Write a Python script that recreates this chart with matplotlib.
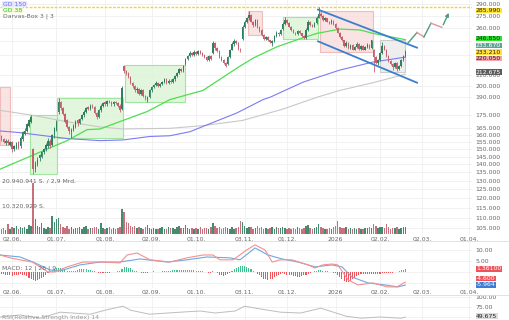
import numpy as np
import matplotlib
matplotlib.use("Agg")
import matplotlib.pyplot as plt
from matplotlib.patches import Rectangle
from matplotlib.ticker import FixedLocator, NullLocator

W, H = 510, 320

# trading-day index (weekdays, 0 = 02.06.2025)
days = np.arange(-5, 187)

opens = [159, 157, 154, 156, 153,
         155, 150, 151, 155, 152, 157, 161, 163, 167, 170,
         150, 137, 140, 144, 145, 148, 150, 152, 156, 153,
         160, 164, 178, 186, 181, 176, 171, 166, 162, 164,
         166, 171, 169, 172, 175, 178, 182, 180, 183, 182,
         177, 174, 179, 183, 186, 184, 187, 186, 184, 186,
         185, 183, 180, 219, 214, 212, 208, 203, 200, 196,
         197, 193, 196, 191, 188, 190, 196, 199, 201, 203,
         200, 202, 204, 206, 203, 205, 204, 206, 209, 212,
         216, 214, 221, 226, 229, 232, 230, 233, 231, 234,
         232, 230, 228, 225, 229, 232, 243, 238, 234, 228,
         225, 222, 221, 228, 236, 242, 245, 243, 237, 248,
         262, 268, 272, 276, 268, 264, 270, 261, 258, 252,
         248, 250, 246, 243, 245, 251, 255, 253, 259, 265,
         270, 266, 262, 258, 255, 253, 257, 254, 251, 249,
         258, 268, 264, 262, 266, 273, 278, 275, 270, 272,
         268, 266, 269, 265, 260, 255, 250, 246, 240, 243,
         238, 241, 236, 239, 242, 237, 240, 236, 239, 241,
         238, 236, 228, 222, 225, 232, 240, 236, 229, 224,
         221, 218, 222, 216, 219, 225, 229]
closes = [157, 155, 156, 154, 155,
          150, 152, 154, 151, 158, 162, 163, 168, 171, 174,
          137, 141, 143, 146, 148, 150, 153, 156, 152, 160,
          165, 170, 186, 181, 176, 170, 166, 163, 164, 167,
          170, 169, 172, 175, 178, 181, 180, 183, 182, 177,
          174, 179, 183, 185, 184, 187, 186, 184, 186, 185,
          183, 179, 198, 214, 212, 208, 203, 200, 196, 197,
          193, 196, 191, 189, 190, 196, 199, 201, 203, 200,
          202, 204, 206, 203, 205, 204, 206, 209, 212, 216,
          214, 219, 226, 229, 232, 230, 233, 231, 234, 232,
          230, 228, 225, 229, 226, 243, 238, 234, 228, 225,
          222, 219, 228, 236, 242, 245, 243, 237, 235, 262,
          268, 272, 276, 268, 264, 270, 261, 258, 252, 248,
          250, 246, 244, 245, 251, 255, 253, 258, 265, 270,
          266, 262, 258, 255, 253, 257, 254, 251, 249, 258,
          268, 264, 262, 266, 273, 278, 275, 270, 272, 268,
          266, 269, 265, 260, 255, 250, 246, 240, 243, 238,
          241, 236, 239, 242, 237, 240, 236, 239, 241, 238,
          246, 228, 222, 225, 232, 240, 236, 229, 224, 221,
          218, 222, 216, 219, 225, 229, 233.6]
highs = [160, 158, 157, 157, 156,
         156, 153, 155, 156, 159, 163, 165, 169, 172, 175,
         151, 142, 145, 147, 149, 151, 154, 158, 157, 161,
         166, 171, 189, 187, 182, 177, 172, 167, 165, 168,
         171, 172, 173, 176, 179, 182, 183, 184, 184, 183,
         178, 180, 184, 186, 187, 188, 188, 187, 187, 187,
         186, 184, 200, 220, 215, 213, 209, 204, 201, 199,
         198, 197, 197, 192, 191, 197, 200, 202, 205, 204,
         203, 205, 207, 207, 206, 206, 207, 210, 213, 217,
         217, 220, 227, 230, 234, 233, 235, 234, 236, 235,
         233, 231, 229, 230, 230, 245, 244, 239, 235, 229,
         226, 223, 229, 237, 244, 248, 247, 244, 238, 264,
         270, 274, 281, 277, 269, 271, 271, 263, 259, 253,
         251, 251, 247, 246, 252, 257, 256, 259, 267, 274,
         271, 267, 263, 259, 256, 258, 258, 255, 252, 260,
         270, 269, 265, 267, 275, 286, 280, 276, 274, 273,
         269, 271, 270, 266, 261, 256, 251, 247, 245, 244,
         242, 242, 240, 244, 243, 241, 241, 240, 243, 242,
         247, 237, 229, 226, 233, 244, 241, 237, 230, 225,
         222, 223, 223, 220, 226, 230, 235]
lows = [156, 154, 153, 153, 152,
        148, 149, 150, 150, 151, 156, 160, 162, 166, 169,
        134, 135, 139, 142, 144, 147, 149, 151, 151, 152,
        158, 163, 176, 179, 175, 169, 165, 161, 158, 163,
        165, 167, 168, 171, 174, 177, 179, 179, 181, 176,
        172, 173, 178, 182, 183, 183, 185, 183, 183, 184,
        182, 178, 179, 212, 210, 207, 202, 198, 195, 194,
        192, 192, 190, 188, 186, 189, 195, 198, 200, 199,
        199, 201, 203, 202, 202, 203, 203, 205, 208, 211,
        213, 213, 220, 225, 228, 229, 229, 230, 230, 231,
        229, 227, 224, 224, 225, 231, 236, 233, 227, 224,
        221, 218, 220, 227, 235, 240, 242, 236, 233, 247,
        260, 266, 270, 267, 262, 263, 260, 256, 251, 247,
        247, 245, 243, 240, 244, 250, 251, 252, 258, 264,
        265, 261, 257, 254, 252, 252, 253, 250, 248, 248,
        257, 263, 261, 261, 265, 272, 274, 269, 269, 267,
        265, 265, 264, 259, 254, 249, 245, 239, 239, 237,
        237, 235, 235, 238, 236, 236, 235, 235, 238, 237,
        237, 213, 221, 220, 224, 231, 235, 228, 223, 220,
        215, 217, 214, 215, 218, 224, 228]
volume_mio = [2.0, 2.6, 1.8, 4.0, 2.2,
              3.0, 2.4, 3.4, 2.0, 2.8, 2.5, 3.0, 2.2, 3.6, 3.2,
              20.9, 6.0, 3.2, 2.8, 4.3, 2.6, 2.2, 3.0, 2.4, 7.4,
              5.0, 6.0, 6.5, 4.2, 3.0, 2.6, 3.4, 2.2, 2.8, 2.0,
              2.6, 2.4, 3.0, 2.2, 2.8, 3.2, 2.0, 2.6, 2.4, 3.0,
              2.8, 2.2, 4.5, 2.6, 2.0, 2.4, 3.0, 2.2, 2.6, 2.0,
              2.4, 3.0, 10.4, 9.0, 5.0, 4.6, 3.4, 2.8, 3.2, 2.4,
              3.0, 2.6, 2.2, 2.8, 3.6, 2.4, 2.0, 2.6, 2.2, 2.0,
              2.4, 2.8, 2.2, 2.0, 3.0, 2.4, 2.6, 2.2, 2.8, 3.2,
              2.4, 2.6, 3.8, 2.4, 2.2, 2.6, 2.0, 2.4, 2.2, 2.8,
              2.0, 2.4, 2.6, 2.2, 3.0, 4.5, 3.2, 2.4, 2.8, 2.2,
              2.6, 3.0, 2.4, 2.2, 2.8, 2.0, 2.6, 3.0, 5.2, 5.0,
              3.4, 2.6, 3.0, 2.8, 2.2, 2.6, 3.2, 2.4, 2.8, 2.2,
              2.4, 2.0, 2.6, 3.0, 2.2, 2.8, 2.4, 2.6, 3.0, 2.4,
              2.2, 2.6, 2.0, 2.4, 2.2, 2.8, 2.4, 2.0, 2.6, 3.2,
              3.6, 2.6, 2.2, 2.4, 3.0, 4.0, 3.0, 2.6, 2.2, 2.0,
              2.4, 2.2, 2.8, 3.2, 5.2, 3.0, 2.6, 2.4, 2.8, 2.2,
              2.4, 2.0, 2.6, 2.2, 2.4, 2.0, 2.2, 2.6, 2.4, 2.8,
              2.6, 4.0, 3.2, 2.4, 2.8, 3.0, 2.6, 4.0, 3.0, 2.2,
              2.6, 2.4, 2.8, 2.2, 2.6, 2.8, 3.0]
macd_hist = [-0.8, -1.0, -1.2, -1.4, -1.6,
             -1.8, -1.6, -1.4, -1.2, -1.0, -1.2, -1.6, -2.0, -2.6, -3.0,
             -3.6, -4.0, -3.8, -3.4, -2.8, -2.2, -1.4, -0.6, 0.2, 0.8,
             1.2, 1.6, 1.8, 1.6, 1.4, 1.0, 0.6, 0.3, 0.2, 0.4,
             0.6, 0.9, 1.2, 1.4, 1.3, 1.2, 1.0, 0.8, 0.5, 0.2,
             -0.1, -0.3, -0.5, -0.6, -0.5, -0.4, -0.3, -0.2, -0.1, 0.0,
             0.2, 0.6, 1.4, 2.2, 2.3, 2.0, 1.6, 1.1, 0.6, 0.2,
             -0.2, -0.4, -0.5, -0.4, -0.3, -0.1, 0.1, 0.2, 0.1, 0.0,
             0.1, 0.2, 0.3, 0.4, 0.5, 0.6, 0.7, 0.8, 0.9, 0.9,
             0.8, 0.8, 0.9, 0.9, 0.8, 0.7, 0.7, 0.6, 0.5, 0.4,
             0.3, 0.1, -0.2, -0.4, -0.3, 0.2, 0.1, -0.6, -1.2, -1.6,
             -1.8, -1.6, -1.0, -0.4, 0.4, 1.2, 1.8, 2.2, 2.6, 2.7,
             2.6, 2.3, 1.8, 1.2, 0.6, 0.0, -0.8, -1.6, -2.4, -3.0,
             -3.4, -3.6, -3.4, -3.0, -2.4, -1.8, -1.2, -0.8, -0.6, -0.8,
             -1.2, -1.4, -1.6, -1.8, -2.0, -2.2, -2.2, -2.0, -1.6, -1.2,
             -0.8, -0.4, -0.1, 0.2, 0.5, 0.7, 0.7, 0.6, 0.4, 0.2,
             0.1, -0.1, -0.3, -0.6, -1.4, -2.4, -3.4, -4.2, -4.5, -4.4,
             -4.0, -3.4, -2.6, -1.8, -1.2, -1.0, -0.9, -1.0, -1.1, -1.0,
             -0.9, -0.8, -1.0, -0.9, -0.8, -0.6, -0.5, -0.4, -0.5, -0.4,
             -0.3, -0.2, 0.1, 0.4, 0.7, 1.0, 1.36]

# moving averages (day index, price)
gd38_x = [-5.7, 18, 26, 35.5, 41.6, 52.5, 63.8, 74.7, 90.3, 106.4, 114, 125.3, 137.6, 144.2, 155, 164.5, 170.7, 186]
gd38_y = [137, 151, 156, 164, 164.5, 171, 178, 188, 196, 217, 227, 239, 249, 254, 259, 258, 254, 246.85]
gd150_x = [-5.7, 2.4, 18, 26, 41.6, 52.5, 65.2, 74.7, 84.2, 93.6, 106.4, 118.7, 122, 137.6, 155, 170.7, 186]
gd150_y = [163, 162, 159, 157.5, 156, 156.5, 159, 159.5, 162.5, 168.5, 177, 188, 190, 203.5, 215, 223, 228]
gd200_x = [-5.7, 10, 26, 41.6, 52.5, 74.7, 90.3, 109, 128, 144.2, 155, 170.7, 186]
gd200_y = [179, 175, 170, 166, 164.5, 165, 167, 171, 180, 190, 196, 203, 211]

macd_x = [-5.7, -0.9, 3.8, 9.5, 13.2, 17, 20.3, 26, 33.6, 41.6, 51, 54.4, 59.1, 65.2, 74.7, 82.7, 90.3, 95,
          98.3, 104.5, 111, 114.9, 119.6, 123, 126.7, 132.4, 140, 143.3, 147, 151.3, 154, 158.9, 163.6,
          170.7, 177.3, 182, 186]
macd_y = [7.7, 6.4, 5.5, 4.5, 2.3, 0, 0, 2.3, 4.5, 4.5, 4.1, 7.7, 8.6, 5.5, 4.5, 6.4, 7.7, 7.7,
          5.5, 5.5, 10, 12.3, 10, 4.5, 5.5, 5.5, 3.2, 1.8, 3.2, 3.6, 3.2, -3.6, -5.9,
          -5, -6.8, -6.8, -4.6]
signal_x = [-5.7, 3.8, 9.9, 18, 22.7, 32.2, 41.6, 51, 60.5, 73.3, 82.7, 92.2, 103, 107.8, 114.9, 121,
            127.7, 135.2, 143.3, 151.3, 156, 160.7, 168.3, 176.4, 182.5, 186]
signal_y = [7.7, 6.8, 4.5, 0.9, 0.5, 3.2, 4.5, 4.5, 5.9, 4.5, 5.5, 6.8, 6.4, 5.5, 10.9, 7.7,
            5.9, 4.5, 2.3, 3.2, 2.3, -2.3, -5, -5.9, -6.8, -5.964]
rsi_x = [-5.7, 3.8, 13.2, 22.7, 37, 44, 52.5, 56, 65, 79.5, 89, 96, 105.5, 110, 117.5, 127, 136.5, 146,
         158, 165, 174, 184, 186]
rsi_y = [50, 55, 47, 62, 57, 67, 77, 67, 57, 62, 65, 60, 65, 77, 70, 62, 60, 72, 52, 47, 50, 47, 49.675]

# darvas boxes: (start, end, low, high, kind)
boxes = [(-5.7, -0.9, 153, 199, "down"), (8.5, 21.3, 134, 175, "up"), (21.3, 52.5, 158, 189, "up"),
         (53.4, 81.8, 186, 220, "up"), (111.6, 118.2, 252, 281, "down"), (128, 144.7, 248, 274, "up"),
         (145.6, 170.7, 233, 281, "down"), (174, 185.8, 213, 246, "open")]
channel_upper = ([144.7, 191.5], [283, 238])
channel_lower = ([144.7, 191.5], [245, 203])
forecast_x = [187.2, 191.5, 194.8, 198.1, 203.3, 207.1]
forecast_y = [243, 255, 250, 266, 261, 282]
ath = 285.99

tick_days = [0, 21, 44, 66, 87, 110, 130, 153, 174, 194, 216]
tick_labels = ["02.06.", "01.07.", "01.08.", "02.09.", "01.10.", "03.11.", "01.12.", "2026", "02.02.", "02.03.", "01.04."]
price_ticks = [290, 275, 260, 245, 230, 210, 200, 190, 175, 165, 160, 155, 150, 145, 140, 135, 130, 125, 120, 115, 110, 105]
hidden_ticks = [245, 230]  # covered by the value boxes

UP, DOWN = "#2f7f60", "#c4606e"
GRID = "#efefef"
TXT = "#666666"
XLIM = (-5.7, 217.5)


def place(top, bottom, left=0, right=472):
    return [left / W, 1 - bottom / H, (right - left) / W, (bottom - top) / H]


fig = plt.figure(figsize=(W / 100, H / 100), dpi=100)
fig.patch.set_facecolor("white")

ax = fig.add_axes(place(0, 235))
axv = fig.add_axes(place(182.6, 234))
axm = fig.add_axes(place(242, 288))
axr = fig.add_axes(place(295, 340))

for a in (ax, axv, axm, axr):
    a.set_xlim(*XLIM)
    for s in a.spines.values():
        s.set_visible(False)

# ---- price panel
ax.set_yscale("log")
ax.set_ylim(101.6, 295.6)
ax.yaxis.set_major_locator(FixedLocator(price_ticks))
ax.yaxis.set_minor_locator(NullLocator())
ax.set_yticklabels(["" if p in hidden_ticks else f"{p:.3f}" for p in price_ticks])
ax.yaxis.tick_right()
ax.set_xticks(tick_days)
ax.set_xticklabels(tick_labels)
ax.tick_params(axis="both", length=0, labelsize=4.4, labelcolor=TXT)
ax.tick_params(axis="y", pad=2.5)
ax.tick_params(axis="x", pad=1.2)
ax.grid(True, color=GRID, lw=0.6)
ax.set_axisbelow(True)

box_style = {"up": ("#dcf5d6", "#94e294"), "down": ("#f9dede", "#efb4b4"), "open": ("#ececec", "#c6c6c6")}
for x0, x1, lo, hi, kind in boxes:
    fc, ec = box_style[kind]
    ax.add_patch(Rectangle((x0, lo), x1 - x0, hi - lo, fc=fc, ec=ec, lw=0.8, alpha=0.85, zorder=1))

ax.axhline(ath, color="#ffd21f", lw=1.0, ls=(0, (2, 1)), zorder=2)
ax.plot(gd200_x, gd200_y, color="#c8c8c8", lw=0.8, zorder=2)
ax.plot(gd150_x, gd150_y, color="#7b7bf5", lw=0.8, zorder=2)
ax.plot(gd38_x, gd38_y, color="#4ddf4d", lw=0.9, zorder=2)

o = np.array(opens, float)
c = np.array(closes, float)
col = [UP if cc >= oo else DOWN for oo, cc in zip(o, c)]
ax.vlines(days, lows, highs, colors=col, lw=0.6, zorder=3)
body_lo = np.minimum(o, c)
body_h = np.maximum(np.abs(c - o), 0.6)
ax.bar(days, body_h, bottom=body_lo, width=0.7, color=col, lw=0, zorder=3)

ax.plot(*channel_upper, color="#3a7fd0", lw=1.3, zorder=4)
ax.plot(*channel_lower, color="#3a7fd0", lw=1.3, zorder=4)
for k in range(len(forecast_x) - 1):
    up = forecast_y[k + 1] > forecast_y[k]
    colr = "#4c9d7c" if up else "#e8939a"
    if k == len(forecast_x) - 2:
        ax.annotate("", xy=(forecast_x[k + 1], forecast_y[k + 1]), xytext=(forecast_x[k], forecast_y[k]),
                    arrowprops=dict(arrowstyle="-|>", color=colr, lw=1.0, mutation_scale=5), zorder=4)
    else:
        ax.plot(forecast_x[k:k + 2], forecast_y[k:k + 2], color=colr, lw=1.0, zorder=4)

# ---- volume overlay
axv.patch.set_alpha(0)
axv.set_ylim(0, 21)
axv.set_xticks([])
axv.set_yticks([])
axv.bar(days, volume_mio, width=0.7, color=col, alpha=0.9, lw=0)

# ---- MACD
axm.set_ylim(-7.3, 13.6)
axm.set_yticks([10, 5, 0, -5])
axm.set_yticklabels(["10.00", "5.00", "", ""])
axm.yaxis.tick_right()
axm.set_xticks(tick_days)
axm.set_xticklabels(tick_labels)
axm.tick_params(axis="both", length=0, labelsize=4.4, labelcolor=TXT)
axm.tick_params(axis="y", pad=2.5)
axm.tick_params(axis="x", pad=1.5)
axm.grid(True, color=GRID, lw=0.6)
axm.set_axisbelow(True)
hist_col = ["#3ec28f" if v >= 0 else "#f0525a" for v in macd_hist]
axm.bar(days, macd_hist, width=0.5, color=hist_col, lw=0)
axm.plot(signal_x, signal_y, color="#6fa8dc", lw=0.8)
axm.plot(macd_x, macd_y, color="#f59090", lw=0.8)

# ---- RSI (cut off at the bottom)
axr.set_ylim(-7.5, 105)
axr.set_yticks([100, 75, 50])
axr.set_yticklabels(["100.00", "75.00", ""])
axr.yaxis.tick_right()
axr.set_xticks(tick_days)
axr.set_xticklabels([])
axr.tick_params(axis="both", length=0, labelsize=4.4, labelcolor=TXT, pad=2.5)
axr.grid(True, color=GRID, lw=0.6)
axr.plot(rsi_x, rsi_y, color="#bdbdbd", lw=0.7)

# panel separators
for yy in (241, 295):
    fig.add_artist(plt.Line2D([0, 1], [1 - yy / H] * 2, color="#dddddd", lw=0.6))


def ftext(x, y, s, **kw):
    fig.text(x / W, 1 - y / H, s, va="center", ha="left", fontsize=4.4, **kw)


def flabel(y, s, fc, tc="#222222"):
    ftext(476, y, s, color=tc, fontfamily="DejaVu Sans",
          bbox=dict(boxstyle="square,pad=0.08", fc=fc, ec="none"))


flabel(10.5, "285.990", "#ffe23a")
flabel(38.5, "246.850", "#2fe02f")
flabel(45.5, "233.670", "#5fa394", "white")
flabel(52, "233.210", "#ffe23a")
flabel(58.5, "220.050", "#f2a3ab")
flabel(72, "212.675", "#5c5c5c", "white")
flabel(269, "1.36100", "#f0525a", "white")
flabel(278.5, "-4.600", "#f0525a", "white")
flabel(285, "-5.964", "#3d7dd8", "white")
flabel(316, "49.675", "#dddddd")

ftext(3, 4, "GD 150", color="#6a6af0", bbox=dict(boxstyle="square,pad=0.1", fc="#e6e6ff", ec="none"))
ftext(3, 10, "GD 38", color="#2fbf2f", bbox=dict(boxstyle="square,pad=0.1", fc="#f3fbd6", ec="none"))
ftext(3, 16, "Darvas-Box 3 | 3", color=TXT)
ftext(2, 181, "20.940.941 S. / 2,9 Mrd.", color=TXT)
ftext(2, 207, "10.320.929 S.", color=TXT)
ftext(2, 268, "MACD: 12 | 26 | 9", color=TXT)
ftext(2, 318, "RSI(Relative Strength Index) 14", color="#999999")

fig.savefig("out.png", dpi=100)
